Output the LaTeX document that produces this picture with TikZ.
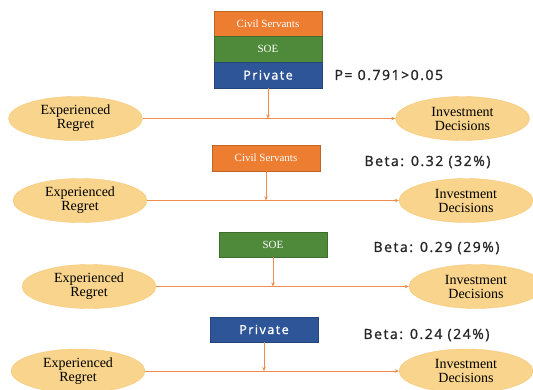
\documentclass[tikz,border=0pt]{standalone}
\usepackage{fontspec}
\setmainfont{Liberation Serif}
\newfontfamily\labfont[LetterSpace=11,FakeBold=1.2]{Open Sans}
\newfontfamily\boxsans[LetterSpace=12,FakeBold=1.2]{Open Sans}
\usetikzlibrary{shapes.geometric,arrows.meta}
\definecolor{ellfill}{HTML}{F8D48C}
\definecolor{linec}{HTML}{EE8B4E}
\definecolor{orbox}{HTML}{ED7D31}
\definecolor{grbox}{HTML}{4E8A3A}
\definecolor{blbox}{HTML}{2E5597}
\tikzset{
  oval/.style={ellipse, fill=ellfill, draw=ellfill!85!orange, line width=0.4pt, inner sep=0pt,
    minimum width=134pt, minimum height=44pt, align=center,
    font=\fontsize{14}{14}\selectfont},
  gbox/.style={rectangle, inner sep=0pt, minimum width=108pt, minimum height=25.5pt,
    text=white, draw=#1!80!black, line width=0.4pt, fill=#1},
  serifbox/.style={font=\fontsize{11}{11}\selectfont},
  sansbox/.style={font=\boxsans\fontsize{12.5}{12.5}\selectfont},
  stat/.style={anchor=west, font=\labfont\fontsize{14}{14}\selectfont, text=black!85},
  link/.style={draw=linec, line width=0.9pt, -{Stealth[length=4pt,width=3.5pt]}}
}
\begin{document}
\begin{tikzpicture}[x=1pt,y=-1pt]
\useasboundingbox (0,0) rectangle (533,389);
\clip (0,0) rectangle (533,389);
% Row 1
\node[gbox=orbox, serifbox] (cs0) at (268,23.5) {Civil Servants};
\node[gbox=grbox, serifbox] (soe0) at (268,49) {SOE};
\node[gbox=blbox, sansbox] (pv0) at (268,75) {Private};
\node[stat] (p0) at (331,75) {P= 0.791>0.05};
\node[oval] (er1) at (75.5,118.5) {Experienced\\Regret};
\node[oval] (id1) at (462.5,118.5) {Investment\\Decisions};
\draw[link] (er1.east) -- (id1.west);
\draw[link] (pv0.south) -- (pv0.south |- er1.east);
% Row 2
\node[gbox=orbox, serifbox] (cs2) at (266,158) {Civil Servants};
\node[stat] (b2) at (361,162) {Beta: 0.32 (32\%)};
\node[oval] (er2) at (80,200.5) {Experienced\\Regret};
\node[oval] (id2) at (466,200.5) {Investment\\Decisions};
\draw[link] (er2.east) -- (id2.west);
\draw[link] (cs2.south) -- (cs2.south |- er2.east);
% Row 3
\node[gbox=grbox, serifbox] (soe3) at (273,244.5) {SOE};
\node[stat] (b3) at (370,248) {Beta: 0.29 (29\%)};
\node[oval] (er3) at (89,286.5) {Experienced\\Regret};
\node[oval] (id3) at (476,286.5) {Investment\\Decisions};
\draw[link] (er3.east) -- (id3.west);
\draw[link] (soe3.south) -- (soe3.south |- er3.east);
% Row 4
\node[gbox=blbox, sansbox] (pv4) at (264,329.5) {Private};
\node[stat] (b4) at (360,335) {Beta: 0.24 (24\%)};
\node[oval] (er4) at (78,371) {Experienced\\Regret};
\node[oval] (id4) at (466,371) {Investment\\Decisions};
\draw[link] (er4.east) -- (id4.west);
\draw[link] (pv4.south) -- (pv4.south |- er4.east);
\end{tikzpicture}
\end{document}
